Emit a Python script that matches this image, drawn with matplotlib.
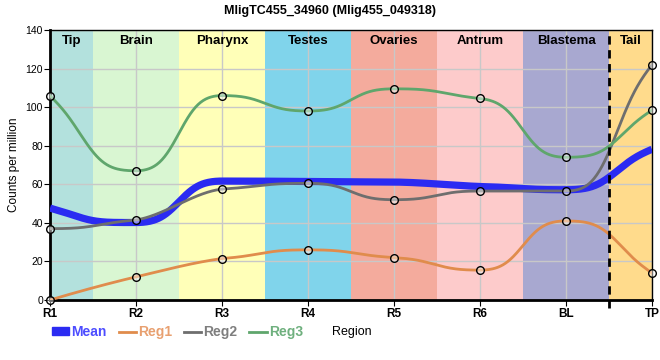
import numpy as np
import matplotlib
matplotlib.use("Agg")
import matplotlib.pyplot as plt
from matplotlib.lines import Line2D
from matplotlib.patches import Patch

plt.rcParams["font.family"] = ["Liberation Sans", "DejaVu Sans"]

regions = ["R1", "R2", "R3", "R4", "R5", "R6", "BL", "TP"]
reg1 = [0, 12, 21.5, 26, 22, 15.5, 41, 14]
reg2 = [37, 41.5, 57.5, 60.5, 52, 56.5, 56.5, 122]
reg3 = [106, 67, 106, 98, 109.5, 104.5, 74, 98.5]
mean = [(a + b + c) / 3 for a, b, c in zip(reg1, reg2, reg3)]

bands = ["Tip", "Brain", "Pharynx", "Testes", "Ovaries", "Antrum", "Blastema", "Tail"]
band_colors = ["#b3e1dd", "#d9f6d2", "#ffffb8", "#80d4eb", "#f4ab9d",
               "#fdcbcb", "#a8a8d0", "#ffdb8c"]


def smooth(x, y, xs, a=0.4):
    # monotone cubic (pchip style); segments touching a flat node get a sharper middle
    x = np.asarray(x, float)
    y = np.asarray(y, float)
    h = np.diff(x)
    delta = np.diff(y) / h
    n = len(x)
    d = np.zeros(n)
    for k in range(1, n - 1):
        if delta[k - 1] * delta[k] > 0:
            w1 = 2 * h[k] + h[k - 1]
            w2 = h[k] + 2 * h[k - 1]
            d[k] = (w1 + w2) / (w1 / delta[k - 1] + w2 / delta[k])

    def end(h0, h1, m0, m1):
        dd = ((2 * h0 + h1) * m0 - h0 * m1) / (h0 + h1)
        if np.sign(dd) != np.sign(m0):
            dd = 0
        elif np.sign(m0) != np.sign(m1) and abs(dd) > abs(3 * m0):
            dd = 3 * m0
        return dd

    d[0] = end(h[0], h[1], delta[0], delta[1])
    d[-1] = end(h[-1], h[-2], delta[-1], delta[-2])
    idx = np.clip(np.searchsorted(x, xs) - 1, 0, n - 2)
    t = (xs - x[idx]) / h[idx]
    flat = (d[idx] == 0) | (d[idx + 1] == 0)
    t = np.where(flat, t - a * np.sin(2 * np.pi * t) / (2 * np.pi), t)
    h00 = 2 * t**3 - 3 * t**2 + 1
    h10 = t**3 - 2 * t**2 + t
    h01 = -2 * t**3 + 3 * t**2
    h11 = t**3 - t**2
    return (h00 * y[idx] + h10 * h[idx] * d[idx]
            + h01 * y[idx + 1] + h11 * h[idx] * d[idx + 1])


x = np.arange(len(regions))
xs = np.linspace(0, len(regions) - 1, 700)

fig = plt.figure(figsize=(6.6, 3.6), dpi=100)
ax = fig.add_axes([50 / 660, 60 / 360, 602 / 660, 270 / 360])

for i, (name, col) in enumerate(zip(bands, band_colors)):
    lo = max(i - 0.5, 0)
    hi = min(i + 0.5, len(regions) - 1)
    ax.axvspan(lo, hi, color=col, lw=0, zorder=0)
    ax.text((lo + hi) / 2, 0.98, name, transform=ax.get_xaxis_transform(),
            ha="center", va="top", fontsize=9.5, fontweight="bold")

ax.grid(True, color="#c8c8c8", lw=1, zorder=1)
ax.set_axisbelow(True)

ax.plot(xs, smooth(x, mean, xs), color="#2b2bf2", lw=5.2, zorder=3,
        solid_capstyle="butt")
series = [(reg1, "#e08c4c"), (reg2, "#6e6e6e"), (reg3, "#5fa66c")]
for vals, col in series:
    ax.plot(xs, smooth(x, vals, xs), color=col, lw=2, zorder=4)
for vals, col in series:
    ax.plot(x, vals, "o", ms=5.5, mfc=(1, 1, 1, 0.45), mec="black", mew=1,
            zorder=5, clip_on=False)

ax.axvline(6.5, ymin=-0.03, ymax=1, color="black", lw=2, ls=(0, (3, 2)),
           zorder=6, clip_on=False)

ax.set_xlim(0, len(regions) - 1)
ax.set_ylim(0, 140)
ax.set_xticks(x)
ax.set_xticklabels(regions, fontsize=8.5, fontweight="bold")
ax.set_yticks(range(0, 141, 20))
ax.tick_params(axis="y", labelsize=7.5, length=4, pad=1)
ax.tick_params(axis="x", length=4, pad=2)
ax.set_ylabel("Counts per million", fontsize=8.5, labelpad=4)
for side in ["left", "bottom"]:
    ax.spines[side].set_linewidth(2)
for side in ["top", "right"]:
    ax.spines[side].set_linewidth(1)

fig.suptitle("MligTC455_34960 (Mlig455_049318)", fontsize=9,
             fontweight="bold", y=0.985)

handles = [Patch(color="#2b2bf2"),
           Line2D([], [], color="#e08c4c", lw=2),
           Line2D([], [], color="#6e6e6e", lw=2),
           Line2D([], [], color="#5fa66c", lw=2)]
labels = ["Mean", "Reg1", "Reg2", "Reg3"]
leg = fig.legend(handles, labels, loc="center left",
                 bbox_to_anchor=(52 / 660, 28 / 360), ncol=4, frameon=False,
                 prop={"size": 10, "weight": "bold"}, handlelength=1.25,
                 handleheight=0.5, handletextpad=0.15, columnspacing=0.85,
                 borderaxespad=0, borderpad=0)
for txt, c in zip(leg.get_texts(), ["#4d4dff", "#e8a070", "#7e7e7e", "#6fb07e"]):
    txt.set_color(c)
fig.text(332 / 660, 28 / 360, "Region", fontsize=9, va="center")

fig.savefig("out.png", dpi=100)
